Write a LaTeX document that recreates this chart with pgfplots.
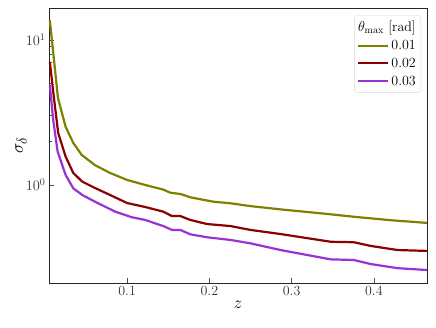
\documentclass[border=0pt]{standalone}
\usepackage{pgfplots}
\pgfplotsset{compat=1.18}

\definecolor{cOlive}{RGB}{128,128,0}
\definecolor{cRed}{RGB}{139,0,0}
\definecolor{cPurple}{RGB}{153,50,210}

\begin{document}
\begin{tikzpicture}
\begin{axis}[
    scale only axis,
    width=378pt, height=275pt,
    at={(0,0)}, anchor=south west,
    ymode=log,
    xmin=0.005, xmax=0.4646,
    ymin=0.211, ymax=16.6,
    xtick={0.1,0.2,0.3,0.4},
    xticklabels={0.1,0.2,0.3,0.4},
    ytick={1,10},
    xtick pos=bottom, ytick pos=left,
    tick align=inside,
    major tick length=5pt, minor tick length=3pt,
    every tick/.style={black!70, line width=0.6pt},
    tick label style={font=\fontsize{14}{16}\selectfont, black!80},
    xlabel={$z$}, ylabel={$\sigma_\delta$},
    label style={font=\fontsize{19}{21}\selectfont},
    xlabel style={yshift=2pt},
    ylabel style={yshift=-8pt},
    axis line style={black!85, line width=0.8pt},
    x axis line style={black!45},
    legend style={at={(1,1)}, anchor=north east, xshift=-6pt, yshift=-7pt,
        draw=black!15, rounded corners=3pt, font=\fontsize{14}{16}\selectfont,
        row sep=3pt, inner xsep=3pt, inner ysep=4pt},
    legend cell align=right,
    legend image code/.code={\draw[#1] (0pt,0pt) -- (30pt,0pt);},
    legend entries={\hspace{-37pt}$\theta_{\max}$ [rad], 0.01, 0.02, 0.03},
    every axis plot/.append style={line width=2.2pt, line join=round},
]
\addlegendimage{empty legend}
\addlegendimage{cOlive, line width=2pt}
\addlegendimage{cRed, line width=2pt}
\addlegendimage{cPurple, line width=2pt}

\addplot[cOlive, mark=none, forget plot] coordinates {
(0.006,13.7) (0.0159,3.98) (0.0252,2.52) (0.0345,1.95) (0.0448,1.61)
(0.061,1.37) (0.0793,1.21) (0.1,1.083) (0.122,1.0) (0.1439,0.93)
(0.1524,0.885) (0.1646,0.867) (0.1768,0.822) (0.2049,0.767) (0.2256,0.748)
(0.25,0.715) (0.2866,0.679) (0.3439,0.631) (0.3756,0.604) (0.42,0.572) (0.4659,0.547)
};

\addplot[cRed, mark=none, forget plot] coordinates {
(0.006,7.05) (0.0113,3.86) (0.0162,2.28) (0.0252,1.57) (0.0345,1.21)
(0.0455,1.054) (0.061,0.953) (0.0793,0.853) (0.1,0.751) (0.122,0.705)
(0.1439,0.655) (0.1545,0.611) (0.1646,0.611) (0.1768,0.574) (0.1972,0.538)
(0.2256,0.521) (0.25,0.49) (0.2866,0.459) (0.3476,0.406) (0.3756,0.403)
(0.3963,0.38) (0.4289,0.356) (0.4659,0.351)
};

\addplot[cPurple, mark=none, forget plot] coordinates {
(0.006,4.9) (0.0101,2.81) (0.0155,1.70) (0.0252,1.172) (0.0345,0.949)
(0.0455,0.853) (0.061,0.767) (0.0854,0.655) (0.1057,0.599) (0.122,0.574)
(0.1439,0.521) (0.1545,0.49) (0.1646,0.49) (0.1768,0.457) (0.1972,0.436)
(0.2256,0.418) (0.25,0.396) (0.2866,0.356) (0.3476,0.307) (0.3756,0.304)
(0.3963,0.285) (0.4289,0.267) (0.4659,0.259)
};
\end{axis}
\path (-49pt,-44pt) (387pt,283pt);
\end{tikzpicture}
\end{document}
